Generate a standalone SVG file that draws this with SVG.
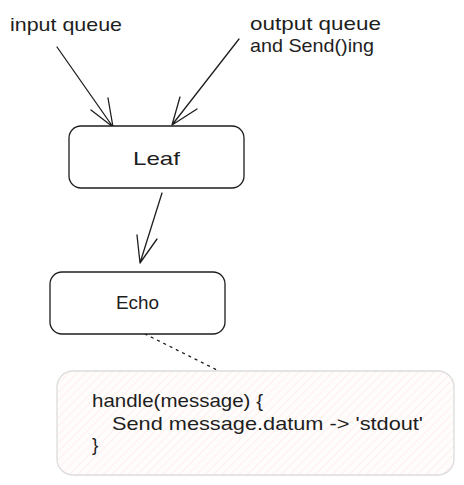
<svg xmlns="http://www.w3.org/2000/svg" width="464" height="485" viewBox="0 0 464 485">
<style>
.txt{font-family:"Liberation Sans",Arial,sans-serif;font-size:19px;fill:#1e1e1e}
.box{fill:#ffffff;stroke:#1e1e1e;stroke-width:1.3}
.edge{fill:none;stroke:#1e1e1e;stroke-width:1.3;stroke-linecap:round;stroke-linejoin:round}
</style>
<defs>
<pattern id="hatch" patternUnits="userSpaceOnUse" width="6" height="6" patternTransform="rotate(45)">
<rect width="6" height="6" fill="#fffcfc"/>
<line x1="0" y1="0" x2="0" y2="6" stroke="#ffe0e0" stroke-width="0.9"/>
</pattern>
</defs>
<rect width="464" height="485" fill="#ffffff"/>
<g id="connectors">
<path class="edge" d="M57,47 L113,127 M91,110 L113,127 L108,98"/>
<path class="edge" d="M239,39 L172,125 M180,97 L172,125 L197,109"/>
<path class="edge" d="M162,193 L140,263 M137,235 L140,263 L157,239"/>
<path class="edge" d="M145,334 L217,370" stroke-dasharray="2 5"/>
</g>
<g id="label-input">
<text class="txt" x="10" y="31" textLength="112" lengthAdjust="spacingAndGlyphs">input queue</text>
</g>
<g id="label-output">
<text class="txt" x="250" y="30" textLength="131" lengthAdjust="spacingAndGlyphs">output queue</text>
<text class="txt" x="250" y="52" textLength="124" lengthAdjust="spacingAndGlyphs">and Send()ing</text>
</g>
<g id="leaf">
<rect class="box" x="69" y="126" width="175" height="62" rx="12"/>
<text class="txt" x="133" y="165" textLength="47" lengthAdjust="spacingAndGlyphs">Leaf</text>
</g>
<g id="echo">
<rect class="box" x="50" y="272" width="175" height="62" rx="12"/>
<text class="txt" x="116" y="309" textLength="43" lengthAdjust="spacingAndGlyphs">Echo</text>
</g>
<g id="note">
<rect x="57" y="371" width="397" height="104" rx="16" fill="url(#hatch)" stroke="#dcdcdc" stroke-width="1.3"/>
<text class="txt" x="92" y="407" textLength="171" lengthAdjust="spacingAndGlyphs">handle(message) {</text>
<text class="txt" x="112" y="430" textLength="311" lengthAdjust="spacingAndGlyphs">Send message.datum -&gt; 'stdout'</text>
<text class="txt" x="92" y="451">}</text>
</g>
</svg>
